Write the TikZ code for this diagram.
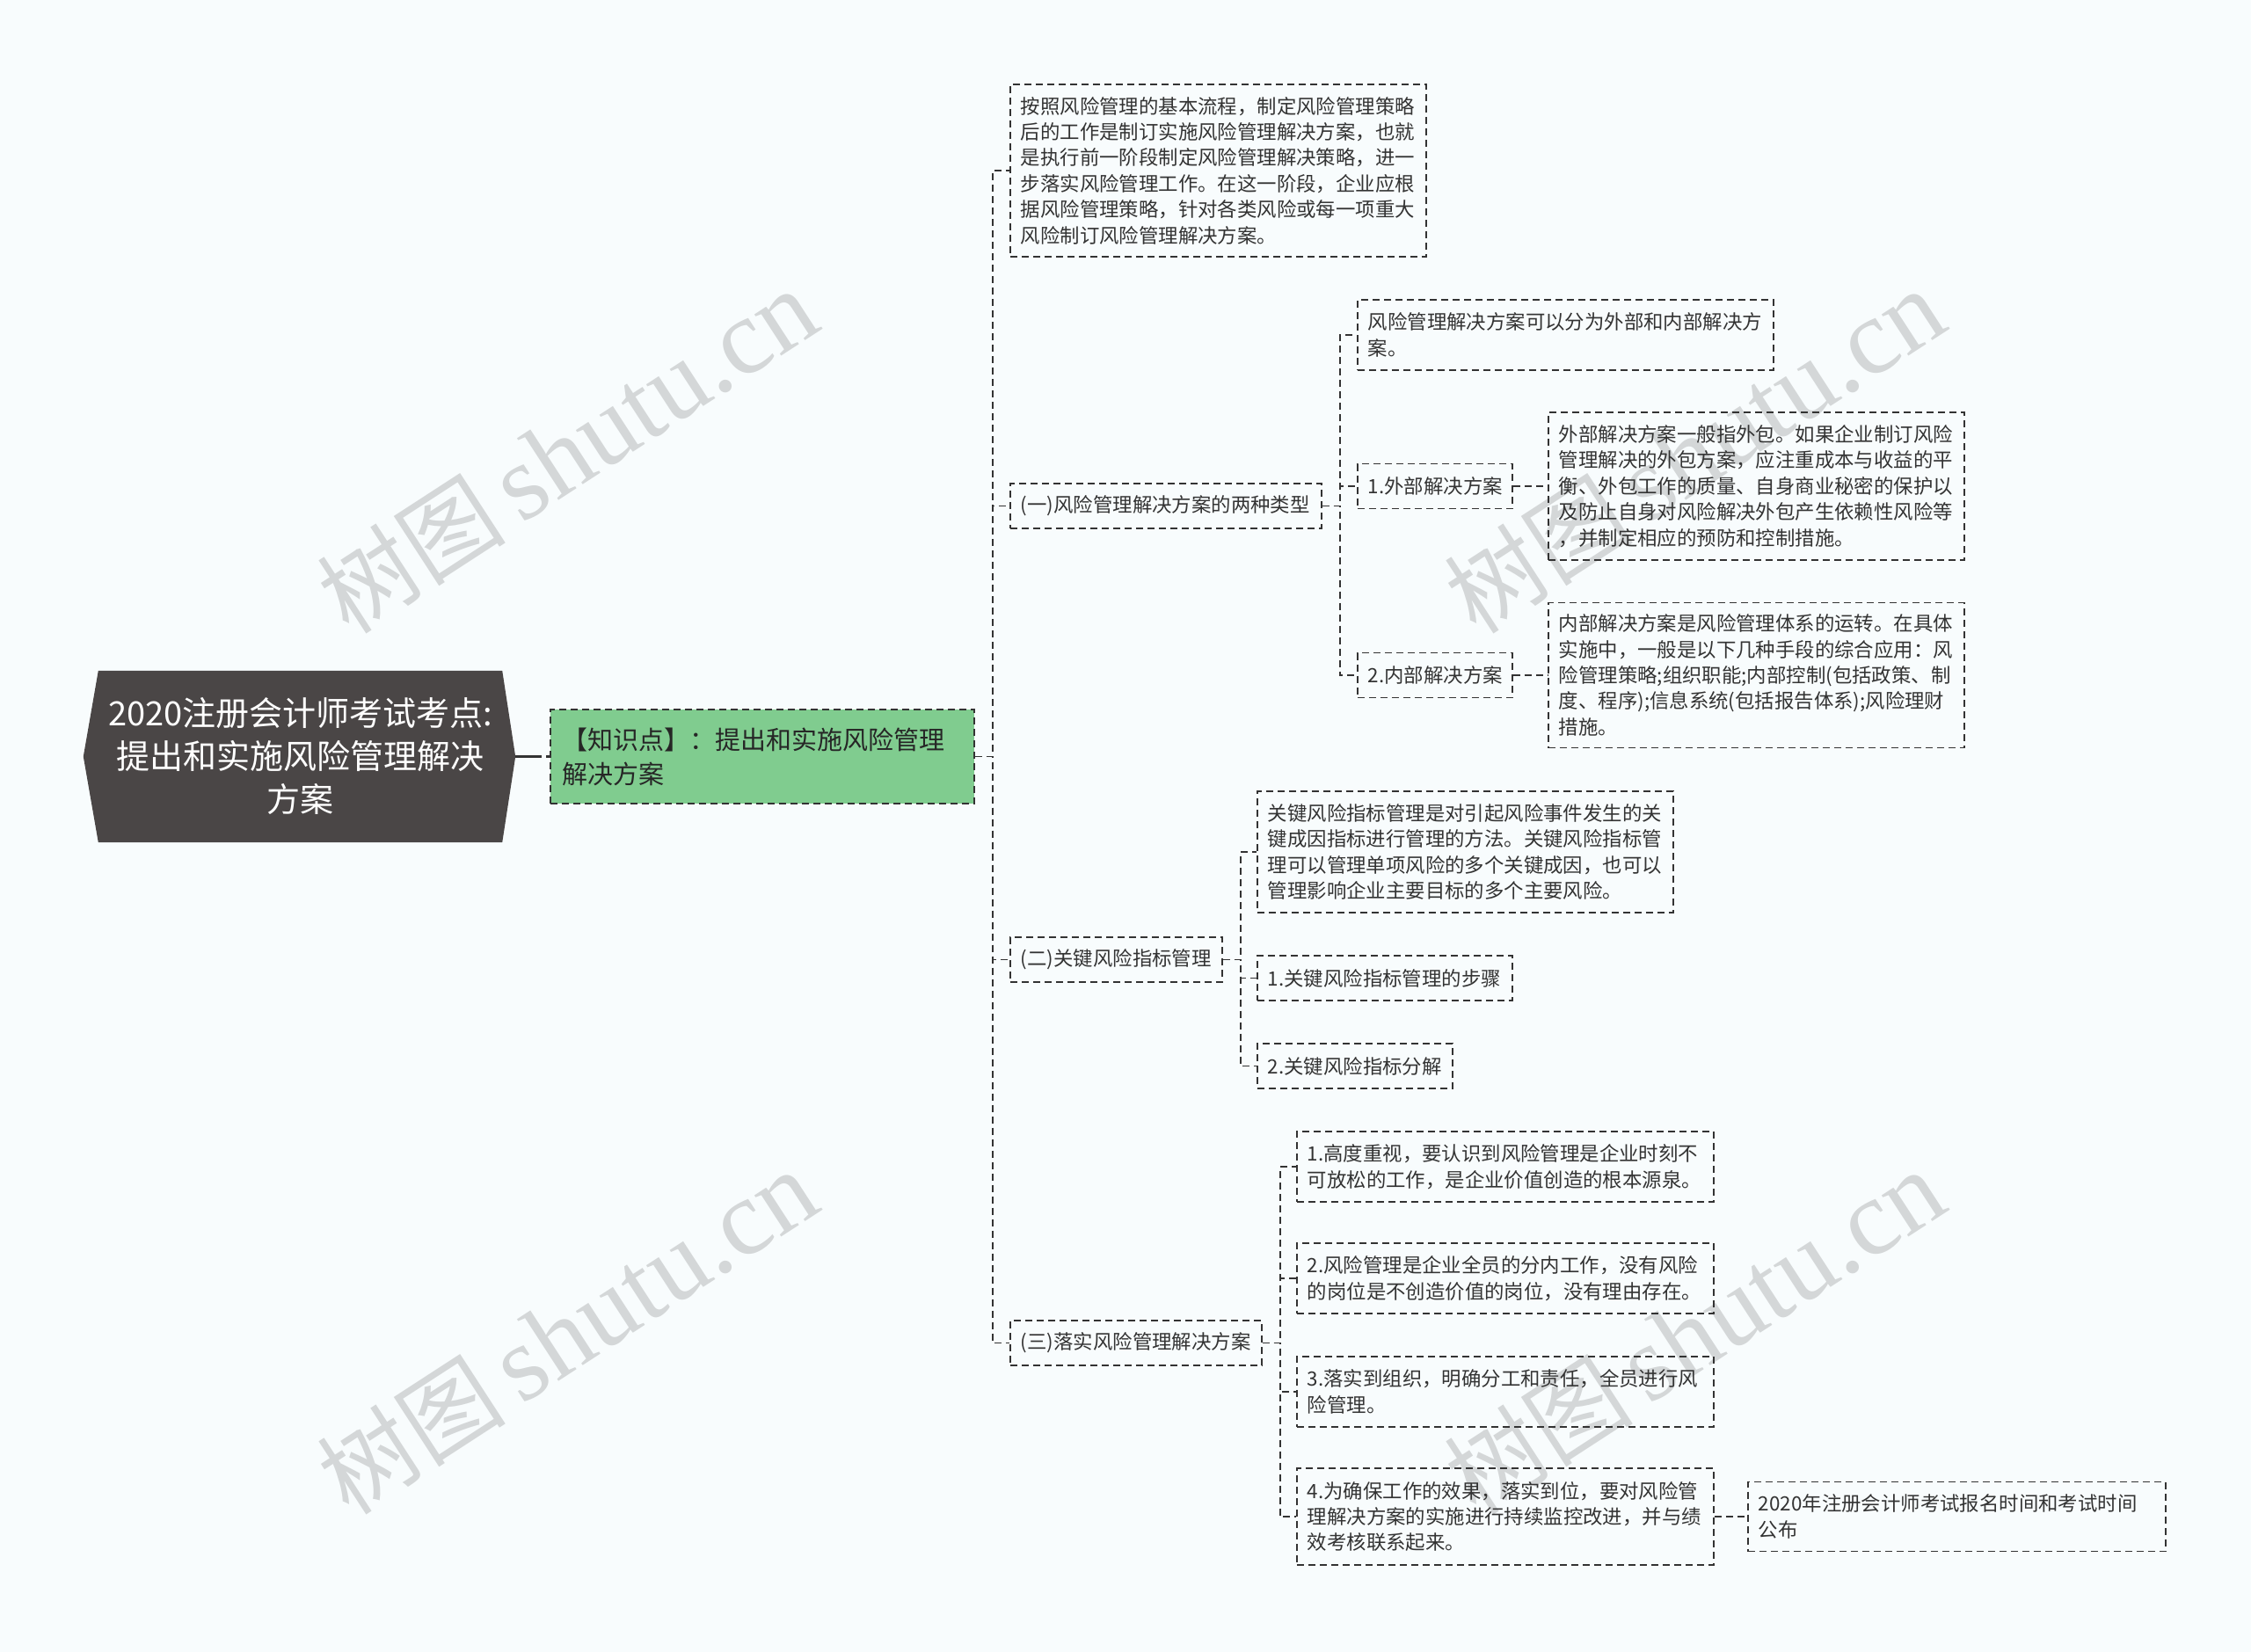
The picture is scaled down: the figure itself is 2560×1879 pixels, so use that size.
\documentclass[tikz,border=0pt]{standalone}
\usepackage{fontspec}
\setmainfont{Noto Sans CJK SC}
\newfontfamily\cjk{Noto Sans CJK SC}
\newfontfamily\wmfont{Liberation Serif}
\usetikzlibrary{backgrounds}
\definecolor{bgc}{HTML}{F8FCFD}
\definecolor{rootc}{HTML}{4A4646}
\definecolor{greenc}{HTML}{80CC8F}
\definecolor{linec}{HTML}{333333}
\definecolor{txtc}{HTML}{333333}
\definecolor{wmc}{HTML}{D4D7D8}
\tikzset{
  boxnode/.style={draw=linec, line width=1.8pt, dash pattern=on 8pt off 5pt, text=txtc,
    align=left, inner xsep=12pt, inner ysep=0pt, font=\fontsize{22.4}{29.4}\selectfont},
  conn/.style={draw=linec, line width=1.8pt, dash pattern=on 8pt off 5pt},
  rootnode/.style={align=center, text=white, inner sep=0pt, minimum width=459pt, minimum height=195pt,
    font=\fontsize{38}{49}\selectfont},
  greennode/.style={boxnode, fill=greenc, text=black!85, font=\fontsize{29}{39}\selectfont, inner xsep=14pt},
  wmark/.style={text=wmc, rotate=33, inner sep=0pt}
}
\begin{document}
\begin{tikzpicture}[x=1pt,y=-1pt]
\begin{scope}[on background layer]
\fill[bgc] (0,0) rectangle (2560,1879);
\end{scope}
\useasboundingbox (0,0) rectangle (2560,1879);

% watermarks
\node[wmark] (wm1) at (645,514) {\cjk\fontsize{108}{108}\selectfont 树图\,\wmfont\fontsize{122}{122}\selectfont shutu.cn};
\node[wmark] (wm2) at (1927,514) {\cjk\fontsize{108}{108}\selectfont 树图\,\wmfont\fontsize{122}{122}\selectfont shutu.cn};
\node[wmark] (wm3) at (645,1516) {\cjk\fontsize{108}{108}\selectfont 树图\,\wmfont\fontsize{122}{122}\selectfont shutu.cn};
\node[wmark] (wm4) at (1927,1516) {\cjk\fontsize{108}{108}\selectfont 树图\,\wmfont\fontsize{122}{122}\selectfont shutu.cn};

% root
\node[rootnode] (root) at (341.5,860.5) {2020注册会计师考试考点:\\提出和实施风险管理解决\\方案};
\begin{scope}[on background layer]
\fill[rootc] ([xshift=-17pt]root.west) -- (root.north west) -- (root.north east) -- ([xshift=15pt]root.east) -- (root.south east) -- (root.south west) -- cycle;
\end{scope}
\coordinate (rootpt) at ([xshift=15pt]root.east);

% level 0 green
\node[greennode, anchor=west, text width=454pt, minimum height=107pt] (green) at (625,860.5) {【知识点】：提出和实施风险管理\\解决方案};

% level 1
\node[boxnode, anchor=west, text width=449pt, minimum height=196pt] (A) at (1148,194) {按照风险管理的基本流程，制定风险管理策略\\后的工作是制订实施风险管理解决方案，也就\\是执行前一阶段制定风险管理解决策略，进一\\步落实风险管理工作。在这一阶段，企业应根\\据风险管理策略，针对各类风险或每一项重大\\风险制订风险管理解决方案。};
\node[boxnode, anchor=west, text width=330pt, minimum height=51pt] (T1) at (1148,575.5) {(一)风险管理解决方案的两种类型};
\node[boxnode, anchor=west, text width=217pt, minimum height=51pt] (T2) at (1148,1091.5) {(二)关键风险指标管理};
\node[boxnode, anchor=west, text width=262pt, minimum height=51pt] (T3) at (1148,1527.5) {(三)落实风险管理解决方案};

% level 2 under T1
\node[boxnode, anchor=west, text width=449pt, minimum height=80pt] (B0) at (1543,381) {风险管理解决方案可以分为外部和内部解决方\\案。};
\node[boxnode, anchor=west, text width=152pt, minimum height=51pt] (B1) at (1543,553) {1.外部解决方案};
\node[boxnode, anchor=west, text width=152pt, minimum height=51pt] (B2) at (1543,768) {2.内部解决方案};
\node[boxnode, anchor=west, text width=449pt, minimum height=168pt] (C1) at (1760,553) {外部解决方案一般指外包。如果企业制订风险\\管理解决的外包方案，应注重成本与收益的平\\衡、外包工作的质量、自身商业秘密的保护以\\及防止自身对风险解决外包产生依赖性风险等\\，并制定相应的预防和控制措施。};
\node[boxnode, anchor=west, text width=449pt, minimum height=165pt] (C2) at (1760,768) {内部解决方案是风险管理体系的运转。在具体\\实施中，一般是以下几种手段的综合应用：风\\险管理策略;组织职能;内部控制(包括政策、制\\度、程序);信息系统(包括报告体系);风险理财\\措施。};

% level 2 under T2
\node[boxnode, anchor=west, text width=449pt, minimum height=138pt] (D0) at (1429,969) {关键风险指标管理是对引起风险事件发生的关\\键成因指标进行管理的方法。关键风险指标管\\理可以管理单项风险的多个关键成因，也可以\\管理影响企业主要目标的多个主要风险。};
\node[boxnode, anchor=west, text width=266pt, minimum height=51pt] (D1) at (1429,1112.5) {1.关键风险指标管理的步骤};
\node[boxnode, anchor=west, text width=198pt, minimum height=51pt] (D2) at (1429,1212.5) {2.关键风险指标分解};

% level 2 under T3
\node[boxnode, anchor=west, text width=450pt, minimum height=80pt] (E1) at (1474,1327) {1.高度重视，要认识到风险管理是企业时刻不\\可放松的工作，是企业价值创造的根本源泉。};
\node[boxnode, anchor=west, text width=450pt, minimum height=80pt] (E2) at (1474,1454) {2.风险管理是企业全员的分内工作，没有风险\\的岗位是不创造价值的岗位，没有理由存在。};
\node[boxnode, anchor=west, text width=450pt, minimum height=80pt] (E3) at (1474,1583) {3.落实到组织，明确分工和责任，全员进行风\\险管理。};
\node[boxnode, anchor=west, text width=450pt, minimum height=110pt] (E4) at (1474,1725) {4.为确保工作的效果，落实到位，要对风险管\\理解决方案的实施进行持续监控改进，并与绩\\效考核联系起来。};
\node[boxnode, anchor=west, text width=451pt, minimum height=79pt] (F) at (1987,1725) {2020年注册会计师考试报名时间和考试时间\\公布};

% connectors
\draw[conn, line width=2.2pt, dash pattern=on 30pt off 5pt] (rootpt) -- (green.west);
\foreach \c in {A,T1,T2,T3} \draw[conn] (green.east) -- ++(20,0) |- (\c.west);
\foreach \c in {B0,B1,B2} \draw[conn] (T1.east) -- ++(20,0) |- (\c.west);
\draw[conn] (B1.east) -- (C1.west);
\draw[conn] (B2.east) -- (C2.west);
\foreach \c in {D0,D1,D2} \draw[conn] (T2.east) -- ++(20,0) |- (\c.west);
\foreach \c in {E1,E2,E3,E4} \draw[conn] (T3.east) -- ++(20,0) |- (\c.west);
\draw[conn] (E4.east) -- (F.west);
\end{tikzpicture}
\end{document}
